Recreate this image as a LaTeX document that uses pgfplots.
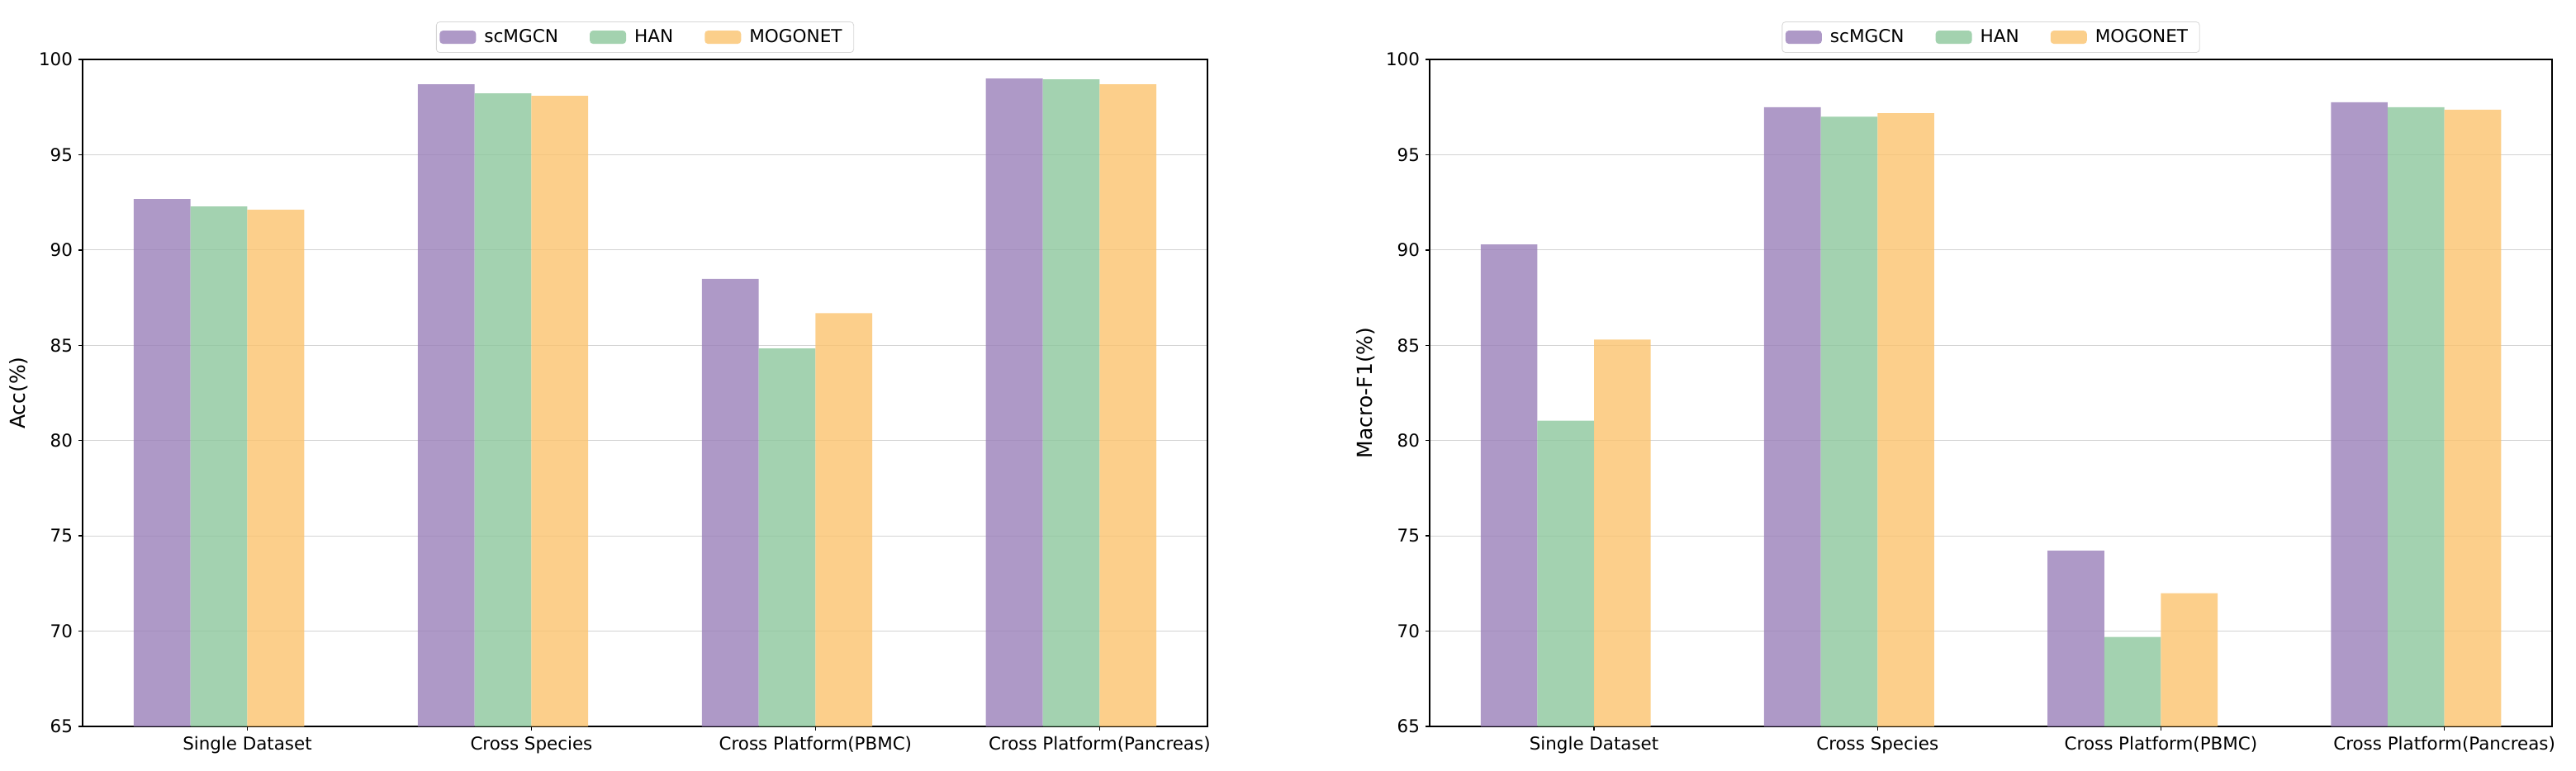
\documentclass[border=0pt]{standalone}
\usepackage{fontspec}
\setmainfont{DejaVu Sans}
\usepackage{pgfplots}
\pgfplotsset{compat=1.18}

\definecolor{cPurple}{HTML}{9A80B9}
\definecolor{cGreen}{HTML}{8CC79C}
\definecolor{cOrange}{HTML}{FBC36E}
\definecolor{gridgray}{HTML}{D3D3D3}
\definecolor{legendgray}{HTML}{D6D6D6}

% shared look of both panels (1 px of the reference = 0.5pt)
\pgfplotsset{
  cmp/.style={
    scale only axis,
    height=404pt,
    xmin=-0.58, xmax=3.38,
    ymin=65, ymax=100,
    ytick={65,70,...,100},
    xtick={0,1,2,3},
    xticklabels={Single Dataset,Cross Species,Cross Platform(PBMC),Cross Platform(Pancreas)},
    ymajorgrids,
    major grid style={gridgray, line width=0.6pt},
    axis line style={line width=0.7pt},
    tick align=outside,
    tick pos=left,
    major tick length=2.5pt,
    every tick/.style={black, line width=0.7pt},
    ticklabel style={font=\fontsize{10.7}{12}\selectfont},
    /pgf/number format/assume math mode=true,
    label style={font=\fontsize{12.5}{14}\selectfont},
    ybar,
    bar width=0.2,
    legend columns=3,
    legend style={
      at={(0.5,1)}, anchor=south, yshift=4pt,
      draw=legendgray, rounded corners=2pt,
      font=\fontsize{10.8}{12}\selectfont,
      inner xsep=2pt, inner ysep=2.5pt,
      nodes={inner xsep=5pt},
      /tikz/every even column/.append style={column sep=14pt},
    },
    legend image code/.code={
      \fill[##1] (0pt,-4pt) rectangle (22pt,4pt);
    },
  },
}

\begin{document}
\begin{tikzpicture}
\useasboundingbox (0,0) rectangle (1559.5pt,466.5pt);

\begin{axis}[cmp, at={(50pt,26.5pt)}, anchor=south west, width=681pt,
  ylabel={Acc(\%)}]
  \addplot[fill=cPurple, fill opacity=0.8, draw=none, bar shift=-0.3]
    coordinates {(0,92.67) (1,98.70) (2,88.48) (3,99.00)};
  \addplot[fill=cGreen, fill opacity=0.8, draw=none, bar shift=-0.1]
    coordinates {(0,92.28) (1,98.22) (2,84.83) (3,98.96)};
  \addplot[fill=cOrange, fill opacity=0.8, draw=none, bar shift=0.1]
    coordinates {(0,92.11) (1,98.09) (2,86.69) (3,98.70)};
  \legend{scMGCN,HAN,MOGONET}
\end{axis}

\begin{axis}[cmp, at={(865.5pt,26.5pt)}, anchor=south west, width=679.5pt,
  ylabel={Macro-F1(\%)}]
  \addplot[fill=cPurple, fill opacity=0.8, draw=none, bar shift=-0.3]
    coordinates {(0,90.29) (1,97.49) (2,74.22) (3,97.75)};
  \addplot[fill=cGreen, fill opacity=0.8, draw=none, bar shift=-0.1]
    coordinates {(0,81.04) (1,97.00) (2,69.70) (3,97.49)};
  \addplot[fill=cOrange, fill opacity=0.8, draw=none, bar shift=0.1]
    coordinates {(0,85.30) (1,97.18) (2,71.99) (3,97.36)};
  \legend{scMGCN,HAN,MOGONET}
\end{axis}
\end{tikzpicture}
\end{document}
